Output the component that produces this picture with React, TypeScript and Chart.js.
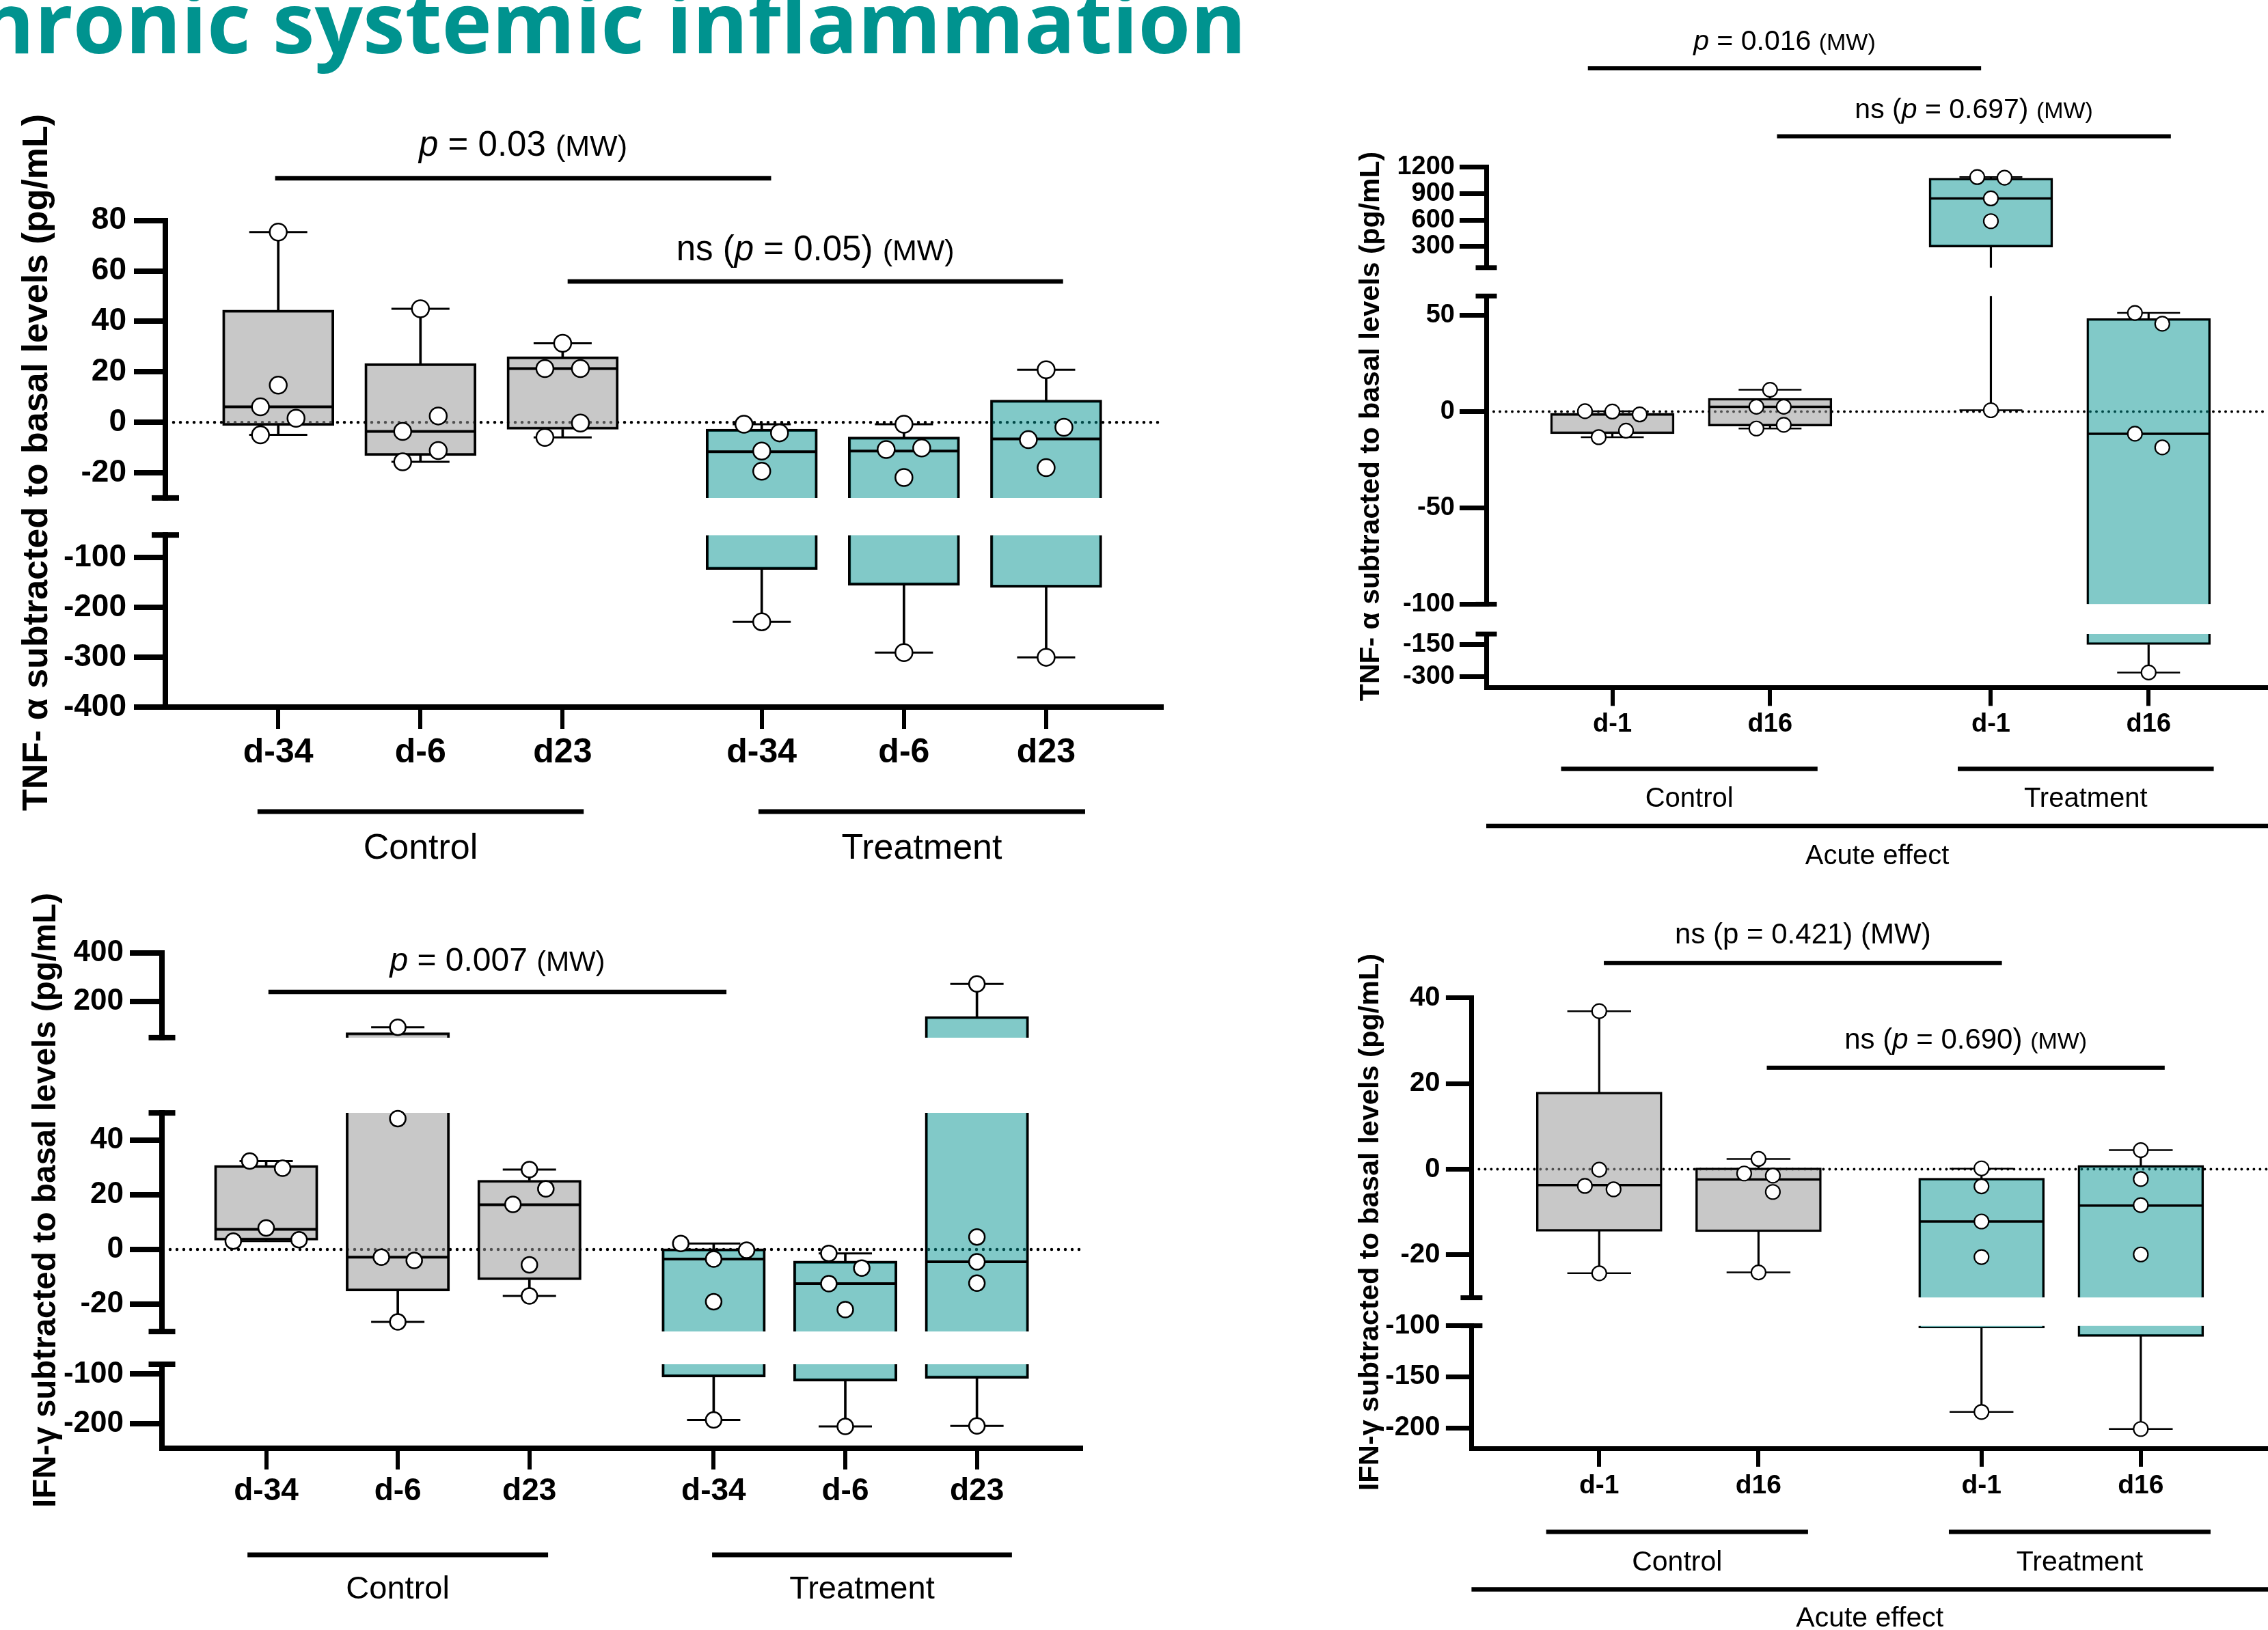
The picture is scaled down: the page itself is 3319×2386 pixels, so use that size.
import React, { useEffect, useRef } from 'react';
import { Chart, registerables } from 'chart.js';

Chart.register(...registerables);

// ===================== DATA =====================
const groupLabels = ['Control', 'Treatment'];
const acuteLabel = 'Acute effect';

// A — TNF-α, chronic effect
const tnfChronicCategories = ['d-34', 'd-6', 'd23', 'd-34', 'd-6', 'd23'];
const tnfChronicMin = [-5, -15.7, -6, -229, -290.8, -300.2];
const tnfChronicQ1 = [-1.3, -13.2, -2.8, -124.2, -155.7, -160];
const tnfChronicMedian = [6.1, -3.6, 21.3, -11.7, -11.4, -6.6];
const tnfChronicQ3 = [44.5, 23.3, 26, -2.7, -5.8, 8.8];
const tnfChronicMax = [75.4, 45, 31.3, -0.8, -0.8, 20.8];
const tnfChronicPoints = [
  [75.4, 14.7, 6.1, 1.6, -5],
  [45, 2.5, -3.6, -11.2, -15.7],
  [31.3, 21.3, 21.3, -0.3, -6],
  [-0.8, -4.2, -11.4, -19.4, -229],
  [-0.8, -10.2, -10.8, -21.9, -290.8],
  [20.8, -2, -6.9, -18, -300.2],
];
const tnfChronicJitter = [
  [0, 0, -1, 1, -1],
  [0, 1, -1, 1, -1],
  [0, -1, 1, 1, -1],
  [-1, 1, 0, 0, 0],
  [0, 1, -1, 0, 0],
  [0, 1, -1, 0, 0],
];
const tnfChronicTicksUpper = [80, 60, 40, 20, 0, -20];
const tnfChronicTicksLower = [-100, -200, -300, -400];
const tnfChronicSig1 = [{ t: 'p', italic: true, k: 'big' }, { t: ' = 0.03 ', k: 'big' }, { t: '(MW)', k: 'small' }];
const tnfChronicSig2 = [{ t: 'ns (', k: 'big' }, { t: 'p', italic: true, k: 'big' }, { t: ' = 0.05) ', k: 'big' }, { t: '(MW)', k: 'small' }];

// B — TNF-α, acute effect
const tnfAcuteCategories = ['d-1', 'd16', 'd-1', 'd16'];
const tnfAcuteMin = [-13.3, -8.8, 0.7, -280];
const tnfAcuteQ1 = [-11.5, -7.5, 294, -149.3];
const tnfAcuteMedian = [-1.5, 2.5, 845, -11.5];
const tnfAcuteQ3 = [-0.8, 6.9, 1075, 48.3];
const tnfAcuteMax = [0.2, 11.3, 1087, 51.2];
const tnfAcutePoints = [
  [0.2, 0, -1.5, -13.3, -9.9],
  [11.3, 2.5, 2.5, -8.8, -6.9],
  [1087, 1080, 845, 587, 0.7],
  [51.2, 45.6, -11.5, -18.6, -280],
];
const tnfAcuteJitter = [
  [-2, 0, 2, -1, 1],
  [0, -1, 1, -1, 1],
  [-1, 1, 0, 0, 0],
  [-1, 1, -1, 1, 0],
];
const tnfAcuteTicksTop = [1200, 900, 600, 300];
const tnfAcuteTicksMid = [50, 0, -50, -100];
const tnfAcuteTicksLow = [-150, -300];
const tnfAcuteSig1 = [{ t: 'p', italic: true, k: 'big' }, { t: ' = 0.016 ', k: 'big' }, { t: '(MW)', k: 'small' }];
const tnfAcuteSig2 = [{ t: 'ns (', k: 'big' }, { t: 'p', italic: true, k: 'big' }, { t: ' = 0.697) ', k: 'big' }, { t: '(MW)', k: 'small' }];

// C — IFN-γ, chronic effect
const ifnChronicCategories = ['d-34', 'd-6', 'd23', 'd-34', 'd-6', 'd23'];
const ifnChronicMin = [3.1, -26.5, -17, -192.5, -205.6, -204.7];
const ifnChronicQ1 = [3.4, -15.2, -11.1, -105.8, -114, -108.5];
const ifnChronicMedian = [7.4, -2.8, 16.4, -3.5, -12.5, -4.5];
const ifnChronicQ3 = [30.8, 70.5, 25.4, 0.3, -4.2, 138];
const ifnChronicMax = [32.4, 93, 29.3, 2.2, -1.4, 271.7];
const ifnChronicPoints = [
  [32.4, 29.8, 7.9, 3.1, 3.6],
  [93, 47.9, -2.8, -4, -26.5],
  [29.3, 22.2, 16.5, -5.6, -17],
  [2.2, -0.2, -3.5, -19.1, -192.5],
  [-1.4, -6.8, -12.5, -22, -205.6],
  [271.7, 4.6, -4.5, -12.3, -204.7],
];
const ifnChronicJitter = [
  [-1, 1, 0, -2, 2],
  [0, 0, -1, 1, 0],
  [0, 1, -1, 0, 0],
  [-2, 2, 0, 0, 0],
  [-1, 1, -1, 0, 0],
  [0, 0, 0, 0, 0],
];
const ifnChronicTicksTop = [400, 200];
const ifnChronicTicksMid = [40, 20, 0, -20];
const ifnChronicTicksLow = [-100, -200];
const ifnChronicSig1 = [{ t: 'p', italic: true, k: 'big' }, { t: ' = 0.007 ', k: 'big' }, { t: '(MW)', k: 'small' }];

// D — IFN-γ, acute effect
const ifnAcuteCategories = ['d-1', 'd16', 'd-1', 'd16'];
const ifnAcuteMin = [-24.3, -24.1, -184.4, -201.1];
const ifnAcuteQ1 = [-14.5, -14.6, -102.3, -110.6];
const ifnAcuteMedian = [-3.7, -2.4, -12.2, -8.5];
const ifnAcuteQ3 = [18, 0.3, -2.1, 0.9];
const ifnAcuteMax = [36.9, 2.4, 0.1, 4.45];
const ifnAcutePoints = [
  [36.9, -0.1, -3.9, -4.7, -24.3],
  [2.4, -1.0, -1.5, -5.3, -24.1],
  [0.2, -4, -12.2, -20.5, -184.4],
  [4.45, -2.3, -8.4, -19.9, -201.1],
];
const ifnAcuteJitter = [
  [0, 0, -1, 1, 0],
  [0, -1, 1, 1, 0],
  [0, 0, 0, 0, 0],
  [0, 0, 0, 0, 0],
];
const ifnAcuteTicksTop = [40, 20, 0, -20];
const ifnAcuteTicksLow = [-100, -150, -200];
const ifnAcuteSig1 = [{ t: 'ns (p = 0.421) (MW)', k: 'big' }];
const ifnAcuteSig2 = [{ t: 'ns (', k: 'big' }, { t: 'p', italic: true, k: 'big' }, { t: ' = 0.690) ', k: 'big' }, { t: '(MW)', k: 'small' }];

const pageTitle = 'Chronic systemic inflammation';
const tnfTitle = 'TNF- α subtracted to basal levels (pg/mL)';
const ifnTitle = 'IFN-γ subtracted to basal levels (pg/mL)';

// ===================== STYLE / LAYOUT =====================
const FONT = '"Liberation Sans", Arial, Helvetica, sans-serif';
const GRAY = 'rgba(150,150,150,0.524)';
const TEAL = 'rgba(0,145,143,0.494)';
const TITLE_COLOR = '#00938f';

const PANELS: any[] = [
  {
    key: 'A', left: 0, top: 0, width: 1860, height: 1300,
    area: { l: 242, t: 322.7, r: 1700, b: 1035 },
    segs: [
      { min: -30, max: 80, ticks: tnfChronicTicksUpper, px: 406.1 },
      { min: -400, max: -55, ticks: tnfChronicTicksLower, px: 251.8 },
    ],
    gaps: [54.2],
    xMin: 0.2062, xMax: 7.2124,
    positions: [1, 2, 3, 4.4, 5.4, 6.4],
    categories: tnfChronicCategories, nControl: 3,
    stats: { min: tnfChronicMin, q1: tnfChronicQ1, med: tnfChronicMedian, q3: tnfChronicQ3, max: tnfChronicMax },
    points: tnfChronicPoints, jitter: tnfChronicJitter, jitterStep: 0.125,
    boxW: 163, boxBW: 3.5, capR: 42.5, whiskerW: 3, medianW: 4, pointR: 12.5, pointBW: 2.5,
    axisW: 8, capW: 40, yTickLen: 46, yTickPad: 11, xTickLen: 32, xTickW: 6, xTickPad: 5,
    tickFont: 46, xFont: 50, groupFont: 52, sigW: 6.5, groupW: 7, dotW: 4.5, dotGap: 10,
    sigBig: 51, sigSmall: 43,
    yTitle: tnfTitle, yTitleX: 55, yTitleY: 677, yTitleFont: 52,
    sig: [
      { from: 0.978, to: 4.466, lineY: 261, textY: 228, runs: tnfChronicSig1 },
      { from: 3.035, to: 6.519, lineY: 412, textY: 381, runs: tnfChronicSig2 },
    ],
    groups: [
      { label: groupLabels[0], from: 0.854, to: 3.148, lineY: 1188, textY: 1257 },
      { label: groupLabels[1], from: 4.377, to: 6.674, lineY: 1188, textY: 1257 },
    ],
    title: true,
  },
  {
    key: 'B', left: 1860, top: 0, width: 1559, height: 1300,
    area: { l: 2175, t: 244.6, r: 3319, b: 1006.3 },
    segs: [
      { min: 60, max: 1200, ticks: tnfAcuteTicksTop, px: 147.2 },
      { min: -100, max: 60, ticks: tnfAcuteTicksMid, px: 451.1 },
      { min: -350, max: -100, ticks: tnfAcuteTicksLow, px: 78.2 },
    ],
    gaps: [41.5, 43.7],
    xMin: 0.2006, xMax: 5.157,
    positions: [1, 2, 3.4, 4.4],
    categories: tnfAcuteCategories, nControl: 2,
    stats: { min: tnfAcuteMin, q1: tnfAcuteQ1, med: tnfAcuteMedian, q3: tnfAcuteQ3, max: tnfAcuteMax },
    points: tnfAcutePoints, jitter: tnfAcuteJitter, jitterStep: 0.0867,
    boxW: 181, boxBW: 3, capR: 46, whiskerW: 2.5, medianW: 3.5, pointR: 10.5, pointBW: 2.2,
    axisW: 7, capW: 31, yTickLen: 39, yTickPad: 7, xTickLen: 27, xTickW: 6, xTickPad: 4,
    tickFont: 38, xFont: 38, groupFont: 40, sigW: 6, groupW: 6.5, dotW: 4, dotGap: 9,
    sigBig: 41, sigSmall: 34,
    yTitle: tnfTitle, yTitleX: 2007, yTitleY: 624, yTitleFont: 41,
    sig: [
      { from: 0.845, to: 3.338, lineY: 100, textY: 73, runs: tnfAcuteSig1 },
      { from: 2.044, to: 4.541, lineY: 199.5, textY: 173, runs: tnfAcuteSig2 },
    ],
    groups: [
      { label: groupLabels[0], from: 0.675, to: 2.301, lineY: 1125.5, textY: 1181 },
      { label: groupLabels[1], from: 3.19, to: 4.813, lineY: 1125.5, textY: 1181 },
      { label: acuteLabel, from: 0.2006, to: 5.157, lineY: 1209, textY: 1265 },
    ],
  },
  {
    key: 'C', left: 0, top: 1300, width: 1860, height: 1086,
    area: { l: 237, t: 1394.9, r: 1581.6, b: 2120.1 },
    segs: [
      { min: 50, max: 400, ticks: ifnChronicTicksTop, px: 124 },
      { min: -30, max: 50, ticks: ifnChronicTicksMid, px: 320 },
      { min: -250, max: -80, ticks: ifnChronicTicksLow, px: 123.1 },
    ],
    gaps: [110.2, 47.9],
    xMin: 0.2082, xMax: 7.189,
    positions: [1, 2, 3, 4.4, 5.4, 6.4],
    categories: ifnChronicCategories, nControl: 3,
    stats: { min: ifnChronicMin, q1: ifnChronicQ1, med: ifnChronicMedian, q3: ifnChronicQ3, max: ifnChronicMax },
    points: ifnChronicPoints, jitter: ifnChronicJitter, jitterStep: 0.125,
    boxW: 151.5, boxBW: 3.5, capR: 39, whiskerW: 3, medianW: 4, pointR: 11.5, pointBW: 2.5,
    axisW: 8, capW: 39, yTickLen: 47, yTickPad: 9, xTickLen: 31, xTickW: 6, xTickPad: 5,
    tickFont: 44, xFont: 46, groupFont: 47, sigW: 6.5, groupW: 7, dotW: 4.5, dotGap: 10,
    sigBig: 48, sigSmall: 41,
    yTitle: ifnTitle, yTitleX: 68, yTitleY: 1757, yTitleFont: 47.5,
    sig: [
      { from: 1.017, to: 4.497, lineY: 1452, textY: 1421, runs: ifnChronicSig1 },
    ],
    groups: [
      { label: groupLabels[0], from: 0.858, to: 3.142, lineY: 2276, textY: 2340 },
      { label: groupLabels[1], from: 4.388, to: 6.666, lineY: 2276, textY: 2340 },
    ],
  },
  {
    key: 'D', left: 1860, top: 1300, width: 1559, height: 1086,
    area: { l: 2153.4, t: 1460.7, r: 3319, b: 2120 },
    segs: [
      { min: -30, max: 40, ticks: ifnAcuteTicksTop, px: 438.9 },
      { min: -220, max: -100, ticks: ifnAcuteTicksLow, px: 179.4 },
    ],
    gaps: [41],
    xMin: 0.1982, xMax: 5.1986,
    positions: [1, 2, 3.4, 4.4],
    categories: ifnAcuteCategories, nControl: 2,
    stats: { min: ifnAcuteMin, q1: ifnAcuteQ1, med: ifnAcuteMedian, q3: ifnAcuteQ3, max: ifnAcuteMax },
    points: ifnAcutePoints, jitter: ifnAcuteJitter, jitterStep: 0.09,
    boxW: 184, boxBW: 3, capR: 46.7, whiskerW: 2.5, medianW: 3.5, pointR: 10.5, pointBW: 2.2,
    axisW: 7, capW: 32, yTickLen: 37.5, yTickPad: 8.5, xTickLen: 27, xTickW: 6, xTickPad: 5,
    tickFont: 40, xFont: 39, groupFont: 41, sigW: 6, groupW: 6.5, dotW: 4, dotGap: 9,
    sigBig: 42, sigSmall: 34,
    yTitle: ifnTitle, yTitleX: 2006, yTitleY: 1789, yTitleFont: 41.5,
    sig: [
      { from: 1.029, to: 3.528, lineY: 1409.8, textY: 1381, runs: ifnAcuteSig1 },
      { from: 2.052, to: 4.55, lineY: 1562.9, textY: 1535, runs: ifnAcuteSig2 },
    ],
    groups: [
      { label: groupLabels[0], from: 0.667, to: 2.311, lineY: 2242.3, textY: 2299 },
      { label: groupLabels[1], from: 3.195, to: 4.838, lineY: 2242.3, textY: 2299 },
      { label: acuteLabel, from: 0.1982, to: 5.1986, lineY: 2326.5, textY: 2381 },
    ],
  },
];

// ===================== DRAWING =====================
function drawRuns(ctx: any, runs: any[], size: { big: number; small: number }, cx: number, baseY: number) {
  const fonts = runs.map((r) => `${r.italic ? 'italic ' : ''}${r.k === 'small' ? size.small : size.big}px ${FONT}`);
  let total = 0;
  runs.forEach((r, i) => { ctx.font = fonts[i]; total += ctx.measureText(r.t).width; });
  let x = cx - total / 2;
  ctx.textAlign = 'left';
  ctx.textBaseline = 'alphabetic';
  runs.forEach((r, i) => {
    ctx.font = fonts[i];
    ctx.fillText(r.t, x, baseY);
    x += ctx.measureText(r.t).width;
  });
}

function decoPlugin(p: any) {
  return {
    id: 'deco' + p.key,
    beforeDatasetsDraw(chart: any) {
      const ctx = chart.ctx;
      const ca = chart.chartArea;
      const si = p.segs.findIndex((s: any) => s.min <= 0 && s.max >= 0);
      if (si < 0) return;
      const y = chart.scales['y' + si].getPixelForValue(0);
      ctx.save();
      ctx.strokeStyle = '#000';
      ctx.lineWidth = p.dotW;
      ctx.lineCap = 'round';
      ctx.setLineDash([0, p.dotGap]);
      ctx.beginPath();
      ctx.moveTo(ca.left + p.axisW + 4, y);
      ctx.lineTo(ca.right - 2, y);
      ctx.stroke();
      ctx.restore();
    },
    afterDraw(chart: any) {
      const ctx = chart.ctx;
      const ca = chart.chartArea;
      const xs = chart.scales.x;
      ctx.save();
      ctx.fillStyle = '#000';
      // caps at the ends of broken axis segments
      p.segs.forEach((s: any, i: number) => {
        const sc = chart.scales['y' + i];
        if (i > 0) ctx.fillRect(ca.left - p.capW / 2, sc.top - p.axisW / 2, p.capW, p.axisW);
        if (i < p.segs.length - 1) ctx.fillRect(ca.left - p.capW / 2, sc.bottom - p.axisW / 2, p.capW, p.axisW);
      });
      // significance bars
      p.sig.forEach((a: any) => {
        const x1 = xs.getPixelForValue(a.from);
        const x2 = xs.getPixelForValue(a.to);
        ctx.fillRect(x1, a.lineY - p.top - p.sigW / 2, x2 - x1, p.sigW);
        drawRuns(ctx, a.runs, { big: p.sigBig, small: p.sigSmall }, (x1 + x2) / 2, a.textY - p.top);
      });
      // group bars and labels
      p.groups.forEach((g: any) => {
        const x1 = xs.getPixelForValue(g.from);
        const x2 = xs.getPixelForValue(g.to);
        ctx.fillRect(x1, g.lineY - p.top - p.groupW / 2, x2 - x1, p.groupW);
        ctx.font = `${p.groupFont}px ${FONT}`;
        ctx.textAlign = 'center';
        ctx.textBaseline = 'alphabetic';
        ctx.fillText(g.label, (x1 + x2) / 2, g.textY - p.top);
      });
      // y axis title
      ctx.save();
      ctx.translate(p.yTitleX - p.left, p.yTitleY - p.top);
      ctx.rotate(-Math.PI / 2);
      ctx.font = `bold ${p.yTitleFont}px ${FONT}`;
      ctx.textAlign = 'center';
      ctx.textBaseline = 'middle';
      ctx.fillText(p.yTitle, 0, 0);
      ctx.restore();
      // page title
      if (p.title) {
        ctx.font = `bold 124px "Open Sans", "Noto Sans", sans-serif`;
        ctx.fillStyle = TITLE_COLOR;
        ctx.textAlign = 'right';
        ctx.textBaseline = 'alphabetic';
        ctx.fillText(pageTitle, 1823.7 - p.left, 78 - p.top);
      }
      ctx.restore();
    },
  };
}

function buildConfig(p: any) {
  const L = p.area.l - p.left;
  const T = p.area.t - p.top;
  const R = p.area.r - p.left;
  const B = p.area.b - p.top;
  const scales: any = {};
  let weight = 100;
  p.segs.forEach((s: any, i: number) => {
    scales['y' + i] = {
      type: 'linear', axis: 'y', position: 'left', stack: 'v', stackWeight: s.px, weight: weight--,
      min: s.min, max: s.max, beginAtZero: false, offset: false,
      afterBuildTicks: (sc: any) => { sc.ticks = s.ticks.map((v: number) => ({ value: v })); },
      afterFit: (sc: any) => { sc.width = L; sc.paddingTop = 0; sc.paddingBottom = 0; },
      ticks: {
        autoSkip: false, padding: p.yTickPad, color: '#000',
        font: { family: FONT, size: p.tickFont, weight: 'bold' },
        callback: (v: any) => String(v),
      },
      grid: {
        drawOnChartArea: false, drawTicks: true, tickLength: p.yTickLen,
        tickWidth: p.axisW, tickColor: '#000', color: '#000', lineWidth: p.axisW,
      },
      border: { display: true, color: '#000', width: p.axisW },
    };
    if (i < p.segs.length - 1) {
      scales['gap' + i] = {
        type: 'linear', axis: 'y', position: 'left', stack: 'v', stackWeight: p.gaps[i], weight: weight--,
        min: 0, max: 1, beginAtZero: false,
        afterFit: (sc: any) => { sc.width = L; sc.paddingTop = 0; sc.paddingBottom = 0; },
        ticks: { display: false },
        grid: { display: false, drawTicks: false },
        border: { display: false },
      };
    }
  });
  scales.x = {
    type: 'linear', axis: 'x', position: 'bottom', min: p.xMin, max: p.xMax, offset: false,
    afterBuildTicks: (sc: any) => { sc.ticks = p.positions.map((v: number) => ({ value: v })); },
    afterFit: (sc: any) => { sc.height = p.height - B; sc.paddingLeft = 0; sc.paddingRight = 0; },
    ticks: {
      autoSkip: false, maxRotation: 0, minRotation: 0, padding: p.xTickPad, color: '#000',
      font: { family: FONT, size: p.xFont, weight: 'bold' },
      callback: (_v: any, i: number) => p.categories[i],
    },
    grid: {
      offset: false, drawOnChartArea: false, drawTicks: true, tickLength: p.xTickLen,
      tickWidth: p.xTickW, tickColor: '#000', color: '#000', lineWidth: p.xTickW,
    },
    border: { display: true, color: '#000', width: p.axisW },
  };

  const st = p.stats;
  const datasets: any[] = [];
  p.segs.forEach((s: any, si: number) => {
    const yAxisID = 'y' + si;
    const inSeg = (v: number) => v >= s.min && v <= s.max;
    const boxes: any[] = [];
    const whiskers: any[] = [];
    const medians: any[] = [];
    const caps: any[] = [];
    const pts: any[] = [];
    p.positions.forEach((x: number, i: number) => {
      const lo = Math.max(st.q1[i], s.min);
      const hi = Math.min(st.q3[i], s.max);
      if (hi > lo) {
        boxes.push({ x, y: [lo, hi], cutTop: st.q3[i] > s.max, cutBot: st.q1[i] < s.min, teal: i >= p.nControl });
      }
      [[st.min[i], st.q1[i]], [st.q3[i], st.max[i]]].forEach(([a, b]) => {
        const wlo = Math.max(a, s.min);
        const whi = Math.min(b, s.max);
        if (whi > wlo) whiskers.push({ x, y: [wlo, whi] });
      });
      if (inSeg(st.med[i])) medians.push({ x, y: st.med[i] });
      if (inSeg(st.min[i])) caps.push({ x, y: st.min[i] });
      if (inSeg(st.max[i])) caps.push({ x, y: st.max[i] });
      p.points[i].forEach((v: number, k: number) => {
        if (inSeg(v)) pts.push({ x: x + p.jitter[i][k] * p.jitterStep, y: v });
      });
    });
    datasets.push({
      type: 'bar', xAxisID: 'x', yAxisID, data: whiskers, grouped: false,
      barThickness: p.whiskerW, backgroundColor: '#000', borderWidth: 0, order: 6,
    });
    datasets.push({
      type: 'bar', xAxisID: 'x', yAxisID, data: boxes, grouped: false,
      barThickness: p.boxW, borderSkipped: false,
      backgroundColor: (c: any) => (c.raw && c.raw.teal ? TEAL : GRAY),
      borderColor: '#000',
      borderWidth: (c: any) => {
        const r = c.raw || {};
        return { top: r.cutTop ? 0 : p.boxBW, bottom: r.cutBot ? 0 : p.boxBW, left: p.boxBW, right: p.boxBW };
      },
      order: 5,
    });
    datasets.push({
      type: 'scatter', xAxisID: 'x', yAxisID, data: medians, pointStyle: 'line',
      pointRadius: p.boxW / 2 - 1, pointBorderWidth: p.medianW, pointBorderColor: '#000', order: 3,
    });
    datasets.push({
      type: 'scatter', xAxisID: 'x', yAxisID, data: caps, pointStyle: 'line',
      pointRadius: p.capR, pointBorderWidth: p.whiskerW, pointBorderColor: '#000', order: 2,
    });
    datasets.push({
      type: 'scatter', xAxisID: 'x', yAxisID, data: pts, pointStyle: 'circle',
      pointRadius: p.pointR, pointBorderWidth: p.pointBW, pointBackgroundColor: '#fff',
      pointBorderColor: '#000', order: 1, clip: false,
    });
  });

  return {
    type: 'bar',
    data: { datasets },
    options: {
      responsive: false,
      animation: false,
      devicePixelRatio: 1,
      events: [],
      layout: { padding: { left: 0, top: T, right: p.width - R, bottom: 0 } },
      plugins: { legend: { display: false }, tooltip: { enabled: false } },
      scales,
    },
    plugins: [decoPlugin(p)],
  };
}

function PanelChart({ spec }: { spec: any }) {
  const ref = useRef<HTMLCanvasElement | null>(null);
  useEffect(() => {
    if (!ref.current) return;
    const chart = new Chart(ref.current, buildConfig(spec) as any);
    return () => chart.destroy();
  }, [spec]);
  return (
    <canvas
      ref={ref}
      width={spec.width}
      height={spec.height}
      style={{ position: 'absolute', left: spec.left, top: spec.top, width: spec.width, height: spec.height }}
    />
  );
}

export default function App() {
  useEffect(() => {
    document.body.style.margin = '0';
  }, []);
  return (
    <div style={{ position: 'fixed', left: 0, top: 0, width: 3319, height: 2386, overflow: 'hidden', background: '#fff' }}>
      {PANELS.map((p) => (
        <PanelChart key={p.key} spec={p} />
      ))}
    </div>
  );
}
